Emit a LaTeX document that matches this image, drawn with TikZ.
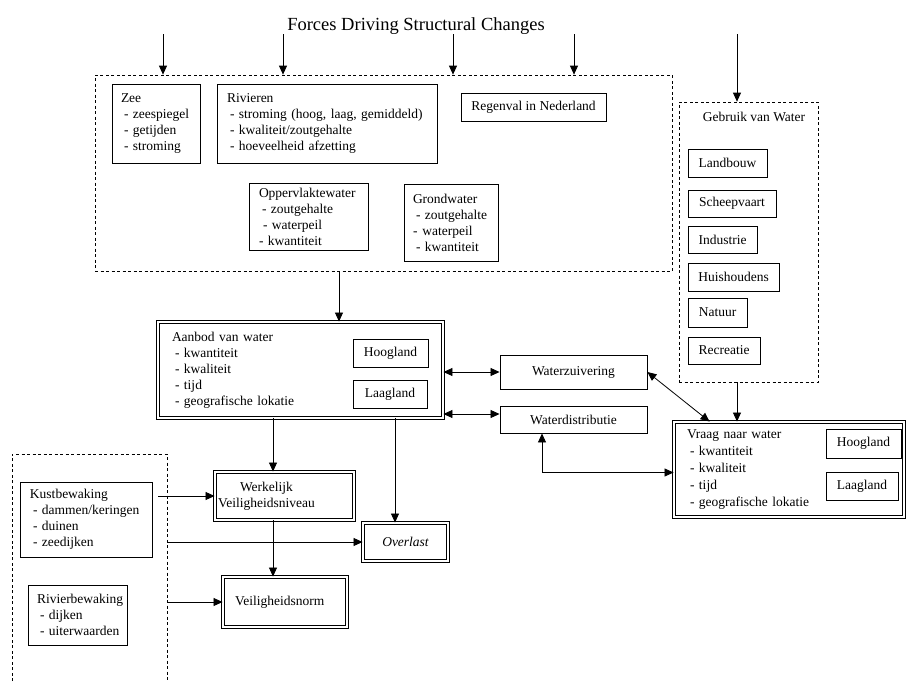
\documentclass[tikz,border=0pt]{standalone}
\usepackage{fontspec}
\setmainfont{Liberation Serif}
\usetikzlibrary{arrows.meta,calc}
\hyphenpenalty=10000
\exhyphenpenalty=10000
\begin{document}
\begin{tikzpicture}[x=1pt,y=-1pt,
  every node/.style={font=\fontsize{13.5}{16}\selectfont, inner sep=0pt},
  box/.style={draw, line width=0.9pt},
  tbox/.style={box, align=left, inner xsep=10pt},
  dbox/.style={draw, line width=0.9pt, double, double distance=1.6pt},
  dashbox/.style={draw, line width=0.7pt, dash pattern=on 3pt off 2.5pt},
  arr/.style={-{Triangle[length=9pt,width=8pt]}, line width=0.8pt},
  darr/.style={{Triangle[length=9pt,width=8pt]}-{Triangle[length=9pt,width=8pt]}, line width=0.8pt}
]
\useasboundingbox (0,0) rectangle (906,681);

% title
\node[font=\fontsize{18.5}{22}\selectfont] (title) at (416,26) {Forces Driving Structural Changes};

% big dashed box of forces
\node[dashbox, minimum width=577pt, minimum height=196pt] (forces) at (383.5,173) {};
\node[tbox, inner xsep=9pt, text width=70pt, minimum height=79pt] (zee) at (156,123.5)
  {Zee\\\hspace*{3pt}-~zeespiegel\\\hspace*{3pt}-~getijden\\\hspace*{3pt}-~stroming};
\node[tbox, text width=200pt, minimum height=79pt] (rivieren) at (327,123.5)
  {Rivieren\\\hspace*{3pt}-~stroming (hoog, laag, gemiddeld)\\\hspace*{3pt}-~kwaliteit/zoutgehalte\\\hspace*{3pt}-~hoeveelheid afzetting};
\node[box, minimum width=145pt, minimum height=28pt] (regenval) at (533.5,107) {Regenval in Nederland};
\node[tbox, text width=99pt, minimum height=67pt] (opp) at (308.5,216.5)
  {Oppervlaktewater\\\hspace*{3pt}-~zoutgehalte\\\hspace*{4pt}-~waterpeil\\-~kwantiteit};
\node[tbox, inner xsep=9pt, text width=76pt, minimum height=77pt] (grond) at (451,222.5)
  {Grondwater\\\hspace*{3pt}-~zoutgehalte\\-\hspace*{5pt}waterpeil\\\hspace*{3pt}-~kwantiteit};

% Gebruik van water
\node[dashbox, minimum width=139pt, minimum height=280pt] (gebruik) at (748.5,242) {};
\node (gebruiktitle) at (754,117) {Gebruik van Water};
\node[box, minimum width=79pt, minimum height=28pt] (landbouw) at (727.5,163) {Landbouw};
\node[box, minimum width=88pt, minimum height=27pt] (scheep) at (732,203.5) {Scheepvaart};
\node[box, minimum width=69pt, minimum height=27pt] (industrie) at (722.5,239.5) {Industrie};
\node[box, minimum width=91pt, minimum height=28pt] (huis) at (733.5,277) {Huishoudens};
\node[box, minimum width=59pt, minimum height=29pt] (natuur) at (717.5,312.5) {Natuur};
\node[box, minimum width=72pt, minimum height=27pt] (recreatie) at (724,350.5) {Recreatie};

% Aanbod
\node[dbox, align=left, inner xsep=14pt, text width=257pt, minimum height=96pt] (aanbod) at (300.5,370)
  {Aanbod van water\\\hspace*{3pt}-~kwantiteit\\\hspace*{3pt}-~kwaliteit\\\hspace*{3pt}-~tijd\\\hspace*{3pt}-~geografische lokatie};
\node[box, minimum width=75pt, minimum height=28pt] (hoog1) at (390.5,353) {Hoogland};
\node[box, minimum width=74pt, minimum height=28pt] (laag1) at (390,394) {Laagland};

% Water treatment and distribution
\node[box, minimum width=147pt, minimum height=34pt] (wzuiv) at (573.5,372) {Waterzuivering};
\node[box, minimum width=147pt, minimum height=27pt] (wdist) at (573.5,419.5) {Waterdistributie};

% Vraag
\node[dbox, align=left, inner xsep=13pt, text width=204pt, minimum height=95pt,
      font=\fontsize{13.5}{17}\selectfont] (vraag) at (789,469.5)
  {Vraag naar water\\\hspace*{3pt}-~kwantiteit\\\hspace*{3pt}-~kwaliteit\\\hspace*{3pt}-~tijd\\\hspace*{3pt}-~geografische lokatie};
\node[box, minimum width=75pt, minimum height=29pt] (hoog2) at (863.5,443.5) {Hoogland};
\node[box, minimum width=72pt, minimum height=28pt] (laag2) at (862,486) {Laagland};

% safety
\node[dbox, align=left, inner xsep=3pt, text width=133pt, minimum height=48pt] (werk) at (284.5,496)
  {\hspace*{22pt}Werkelijk\\Veiligheidsniveau};
\node[dbox, align=left, inner xsep=12pt, text width=100pt, minimum height=50pt] (veil) at (285,602) {Veiligheidsnorm};
\node[dbox, minimum width=85pt, minimum height=38pt, font=\fontsize{13.5}{16}\selectfont\itshape] (overlast) at (405.5,542) {Overlast};

% left dashed box (open at the bottom)
\coordinate (lbbl) at (12,681);
\coordinate (lbtl) at (12,454);
\coordinate (lbtr) at (167,454);
\coordinate (lbbr) at (167,681);
\draw[line width=0.7pt, dash pattern=on 3pt off 2.5pt] (lbbl) -- (lbtl) -- (lbtr) -- (lbbr);
\node[tbox, text width=112pt, minimum height=75pt] (kust) at (86,519.5)
  {Kustbewaking\\\hspace*{3pt}-~dammen/keringen\\\hspace*{3pt}-~duinen\\\hspace*{3pt}-~zeedijken};
\node[tbox, inner xsep=9pt, text width=81pt, minimum height=60pt] (rivbew) at (77.5,615)
  {Rivierbewaking\\\hspace*{3pt}-~dijken\\\hspace*{3pt}-~uiterwaarden};

% top arrows
\coordinate (t1) at (163,34);
\coordinate (t2) at (283,34);
\coordinate (t3) at (453,34);
\coordinate (t4) at (574,34);
\coordinate (t5) at (737,34);
\draw[arr] (t1) -- (t1 |- forces.north);
\draw[arr] (t2) -- (t2 |- forces.north);
\draw[arr] (t3) -- (t3 |- forces.north);
\draw[arr] (t4) -- (t4 |- forces.north);
\draw[arr] (t5) -- (t5 |- gebruik.north);

% forces -> aanbod
\coordinate (fa) at ([xshift=38.5pt]aanbod.north);
\draw[arr] (fa |- forces.south) -- (fa);

% aanbod <-> treatment / distribution
\draw[darr] (aanbod.east |- wzuiv.west) -- (wzuiv.west);
\coordinate (wd1) at ([yshift=5.5pt]wdist.west);
\draw[darr] (aanbod.east |- wd1) -- (wd1);

% treatment <-> vraag
\coordinate (vq1) at ([xshift=36pt]vraag.north west);
\draw[darr] (wzuiv.east) -- (vq1);
% gebruik -> vraag
\coordinate (g1) at ([xshift=-11.5pt]gebruik.south);
\draw[arr] (g1) -- (g1 |- vraag.north);
% distribution <-> vraag
\coordinate (wd2) at ([xshift=-31.5pt]wdist.south);
\coordinate (vw) at ([yshift=-3pt]vraag.west);
\draw[darr] (wd2) |- (vw);

% aanbod -> werkelijk, overlast
\coordinate (x1) at (273,0);
\coordinate (x2) at (395,0);
\draw[arr] (aanbod.south -| x1) -- (werk.north -| x1);
\draw[arr] (werk.south -| x1) -- (veil.north -| x1);
\draw[arr] (aanbod.south -| x2) -- (overlast.north -| x2);

% left box -> safety
\coordinate (ke) at ([xshift=6pt]kust.east);
\draw[arr] (ke |- werk.west) -- (werk.west);
\draw[arr] (lbtr |- overlast.west) -- (overlast.west);
\draw[arr] (lbtr |- veil.west) -- (veil.west);
\end{tikzpicture}
\end{document}
